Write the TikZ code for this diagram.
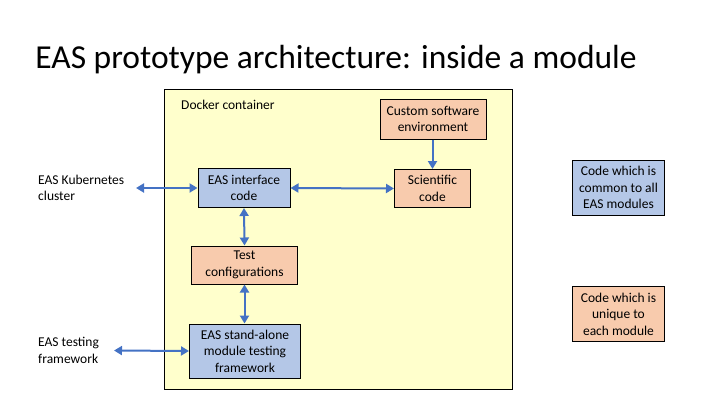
\documentclass[tikz,border=0pt]{standalone}
\usepackage{fontspec}
\setmainfont{Carlito}
\usetikzlibrary{arrows.meta}
\definecolor{bluefill}{HTML}{B4C7E7}
\definecolor{orangefill}{HTML}{F8CBAD}
\definecolor{yellowfill}{HTML}{FFFFCC}
\definecolor{arrowblue}{HTML}{4472C4}
\tikzset{
  box/.style={draw=black, line width=1pt, align=center, font=\fontsize{13.5}{16.5}\selectfont, inner sep=0pt},
  common/.style={box, fill=bluefill},
  unique/.style={box, fill=orangefill},
  conn/.style={draw=arrowblue, line width=2pt, -{Triangle[length=8pt,width=9pt]}},
  biconn/.style={draw=arrowblue, line width=2pt, {Triangle[length=8pt,width=9pt]}-{Triangle[length=8pt,width=9pt]}},
  lbl/.style={align=left, font=\fontsize{13.5}{16.5}\selectfont, inner sep=0pt, anchor=west}
}
\begin{document}
\begin{tikzpicture}[x=1pt,y=-1pt]
\useasboundingbox (0,0) rectangle (720,405);
\node[font=\fontsize{33.5}{38}\selectfont, inner sep=0pt] (title) at (336,60) {EAS prototype architecture: inside a module};
\draw[fill=yellowfill, line width=1pt] (164,89) rectangle (512,389);
\node[lbl] (docker) at (181,105) {Docker container};
\node[unique, minimum width=106pt, minimum height=40pt] (custom) at (433,119) {Custom software\\environment};
\node[unique, minimum width=76pt, minimum height=38pt] (sci) at (432.5,188.5) {Scientific\\code};
\node[common, minimum width=92pt, minimum height=39pt] (iface) at (244,188) {EAS interface\\code};
\node[unique, minimum width=106pt, minimum height=38pt] (test) at (244.5,265) {Test\\configurations};
\node[common, minimum width=111pt, minimum height=54pt] (sa) at (245,351) {EAS stand-alone\\module testing\\framework};
\node[common, minimum width=92pt, minimum height=55pt] (leg1) at (618.5,187.5) {Code which is\\common to all\\EAS modules};
\node[unique, minimum width=92pt, minimum height=55pt] (leg2) at (618.5,314) {Code which is\\unique to\\each module};
\node[lbl] (kube) at (38,188) {EAS Kubernetes\\cluster};
\node[lbl] (testfw) at (38,350.5) {EAS testing\\framework};
\coordinate (kubeend) at (136,188);
\coordinate (testend) at (114,350.5);
\draw[biconn] (kubeend) -- (iface.west);
\draw[biconn] (testend) -- (sa.west);
\draw[biconn] (iface.east) -- (sci.west);
\draw[conn] (custom.south -| sci.north) -- (sci.north);
\draw[biconn] (iface.south) -- (test.north);
\draw[biconn] (test.south) -- (test.south |- sa.north);
\end{tikzpicture}
\end{document}
